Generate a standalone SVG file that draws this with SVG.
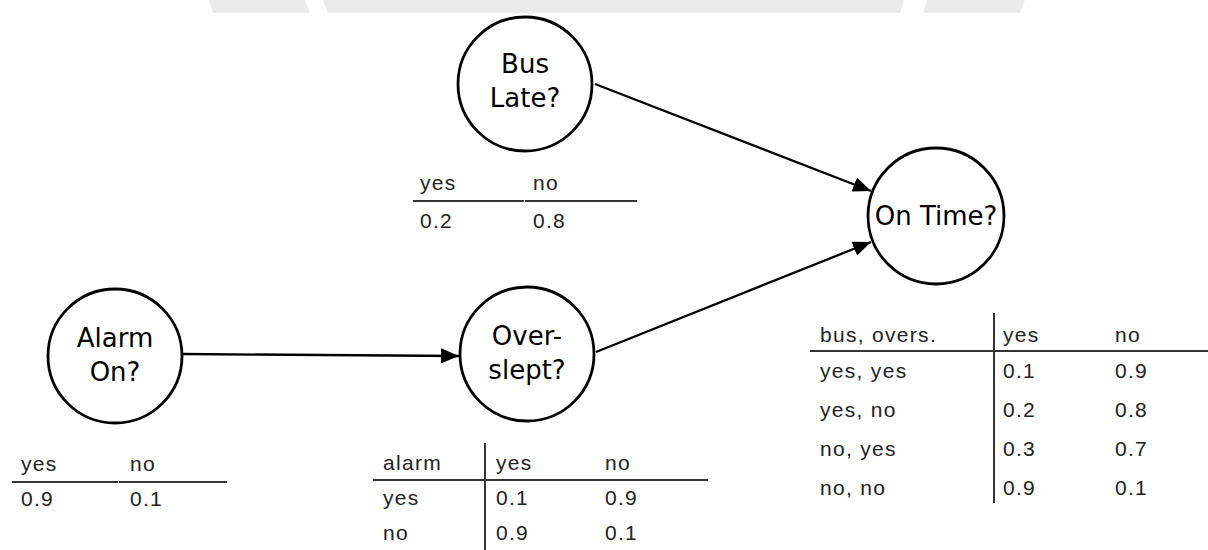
<svg xmlns="http://www.w3.org/2000/svg" width="1208" height="550" viewBox="0 0 1208 550">
<style>
.node{fill:#fff;stroke:#000;stroke-width:2.8}
.nt{font-family:"DejaVu Sans",sans-serif;font-size:26px;fill:#000;text-anchor:middle}
.edge{stroke:#000;stroke-width:2.3;fill:none}
.tl{stroke:#333;stroke-width:2}
.tt{font-family:"Liberation Sans",Arial,sans-serif;font-size:21px;letter-spacing:1.3px;fill:#222}
.band{fill:#ebebeb}
</style>
<defs>
<marker id="arr" viewBox="0 0 18 15" refX="18" refY="7.5" markerWidth="18" markerHeight="15" markerUnits="userSpaceOnUse" orient="auto">
<path d="M0,0 L18,7.5 L0,15 Z" fill="#000"/>
</marker>
</defs>
<g id="band">
<polygon class="band" points="209,0 305,0 310,13 213,13"/>
<polygon class="band" points="323,0 904,0 900,13 328,13"/>
<polygon class="band" points="927,0 1025,0 1020,13 923,13"/>
</g>
<g id="connectors">
<line class="edge" x1="595" y1="84" x2="871" y2="191" marker-end="url(#arr)"/>
<line class="edge" x1="596" y1="352" x2="871" y2="242" marker-end="url(#arr)"/>
<line class="edge" x1="183" y1="354" x2="459" y2="356" marker-end="url(#arr)"/>
</g>
<g id="bus">
<circle class="node" cx="525" cy="84" r="67"/>
<text class="nt" x="525" y="73">Bus</text>
<text class="nt" x="525" y="107">Late?</text>
</g>
<g id="ontime">
<circle class="node" cx="936" cy="216" r="68"/>
<text class="nt" x="936" y="225">On Time?</text>
</g>
<g id="alarm">
<circle class="node" cx="115" cy="356" r="67"/>
<text class="nt" x="115" y="347">Alarm</text>
<text class="nt" x="115" y="381">On?</text>
</g>
<g id="overslept">
<circle class="node" cx="527" cy="354" r="67"/>
<text class="nt" x="527" y="345">Over-</text>
<text class="nt" x="527" y="379">slept?</text>
</g>
<g id="table-bus">
<line class="tl" x1="413" y1="201" x2="524" y2="201"/>
<line class="tl" x1="525" y1="201" x2="637" y2="201"/>
<text class="tt" x="420" y="190">yes</text>
<text class="tt" x="533" y="190">no</text>
<text class="tt" x="420" y="228">0.2</text>
<text class="tt" x="533" y="228">0.8</text>
</g>
<g id="table-alarm">
<line class="tl" x1="12" y1="482" x2="118" y2="482"/>
<line class="tl" x1="119" y1="482" x2="227" y2="482"/>
<text class="tt" x="21" y="471">yes</text>
<text class="tt" x="130" y="471">no</text>
<text class="tt" x="21" y="506">0.9</text>
<text class="tt" x="130" y="506">0.1</text>
</g>
<g id="table-overslept">
<line class="tl" x1="373" y1="480" x2="708" y2="480"/>
<line class="tl" x1="485" y1="443" x2="485" y2="550"/>
<text class="tt" x="383" y="470">alarm</text>
<text class="tt" x="496" y="470">yes</text>
<text class="tt" x="605" y="470">no</text>
<text class="tt" x="383" y="505">yes</text>
<text class="tt" x="496" y="505">0.1</text>
<text class="tt" x="605" y="505">0.9</text>
<text class="tt" x="383" y="540">no</text>
<text class="tt" x="496" y="540">0.9</text>
<text class="tt" x="605" y="540">0.1</text>
</g>
<g id="table-ontime">
<line class="tl" x1="810" y1="351" x2="1208" y2="351"/>
<line class="tl" x1="994" y1="313" x2="994" y2="503"/>
<text class="tt" x="820" y="342">bus, overs.</text>
<text class="tt" x="1003" y="342">yes</text>
<text class="tt" x="1115" y="342">no</text>
<text class="tt" x="820" y="378">yes, yes</text>
<text class="tt" x="1003" y="378">0.1</text>
<text class="tt" x="1115" y="378">0.9</text>
<text class="tt" x="820" y="417">yes, no</text>
<text class="tt" x="1003" y="417">0.2</text>
<text class="tt" x="1115" y="417">0.8</text>
<text class="tt" x="820" y="456">no, yes</text>
<text class="tt" x="1003" y="456">0.3</text>
<text class="tt" x="1115" y="456">0.7</text>
<text class="tt" x="820" y="495">no, no</text>
<text class="tt" x="1003" y="495">0.9</text>
<text class="tt" x="1115" y="495">0.1</text>
</g>
</svg>
